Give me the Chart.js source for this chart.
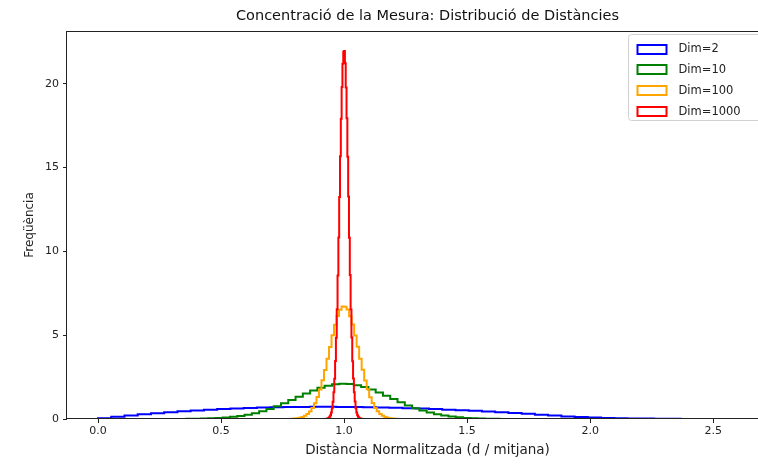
<!DOCTYPE html>
<html>
<head>
    <title>Concentració de la Mesura</title>
    <script src="https://cdn.jsdelivr.net/npm/chart.js"></script>
    <style>
        body { margin: 0; overflow: hidden; background: #fff; }
    </style>
</head>
<body>
    <canvas id="distChart" width="800" height="466"></canvas>

    <script>
        // histogram heights (density) for each dimension, 50 bins each
        var seriesLabels = ["Dim=2", "Dim=10", "Dim=100", "Dim=1000"];
        var seriesColors = ["blue", "green", "orange", "red"];
        var binStart = [0.0, 0.27, 0.745, 0.917];
        var binWidth = [0.0538, 0.0296, 0.0102, 0.00332];

        var dim2 = [0.045, 0.131, 0.210, 0.282, 0.349, 0.410, 0.465, 0.514, 0.558, 0.597,
                    0.630, 0.658, 0.681, 0.699, 0.713, 0.722, 0.726, 0.726, 0.723, 0.715,
                    0.703, 0.687, 0.668, 0.646, 0.620, 0.591, 0.559, 0.524, 0.486, 0.446,
                    0.403, 0.358, 0.310, 0.261, 0.209, 0.156, 0.114, 0.086, 0.065, 0.048,
                    0.036, 0.025, 0.017, 0.011, 0.007, 0.004, 0.002, 0.001, 0.0002, 0.0001];
        var dim10 = [0.002, 0.003, 0.005, 0.009, 0.015, 0.024, 0.038, 0.059, 0.088, 0.129,
                     0.184, 0.257, 0.349, 0.463, 0.600, 0.758, 0.936, 1.127, 1.325, 1.520,
                     1.702, 1.860, 1.984, 2.066, 2.099, 2.082, 2.016, 1.905, 1.757, 1.581,
                     1.388, 1.189, 0.995, 0.812, 0.648, 0.504, 0.383, 0.284, 0.206, 0.145,
                     0.100, 0.067, 0.044, 0.028, 0.018, 0.011, 0.006, 0.004, 0.002, 0.001];
        var dim100 = [0.001, 0.002, 0.004, 0.007, 0.013, 0.024, 0.042, 0.072, 0.119, 0.191,
                      0.298, 0.451, 0.663, 0.946, 1.312, 1.767, 2.307, 2.925, 3.600, 4.302,
                      4.990, 5.620, 6.143, 6.518, 6.715, 6.702, 6.530, 6.131, 5.634, 4.978,
                      4.311, 3.590, 2.934, 2.298, 1.774, 1.305, 0.951, 0.658, 0.455, 0.294,
                      0.193, 0.117, 0.073, 0.041, 0.025, 0.012, 0.007, 0.004, 0.002, 0.001];
        var dim1000 = [0.001, 0.002, 0.005, 0.010, 0.019, 0.038, 0.071, 0.130, 0.229, 0.392,
                       0.648, 1.036, 1.601, 2.396, 3.466, 4.845, 6.552, 8.566, 10.83, 13.25,
                       15.67, 17.91, 19.81, 21.19, 21.91, 21.95, 21.22, 19.78, 17.94, 15.64,
                       13.27, 10.81, 8.59, 6.53, 4.86, 3.45, 2.41, 1.59, 1.04, 0.645,
                       0.395, 0.227, 0.131, 0.070, 0.038, 0.019, 0.009, 0.005, 0.002, 0.001];

        var xTicks = [0.0, 0.5, 1.0, 1.5, 2.0, 2.5];
        var yTicks = [0, 5, 10, 15, 20];

        var heights = [dim2, dim10, dim100, dim1000];

        // outline of a step histogram: up at the first edge, across each bin, down at the last edge
        function stepPoints(start, width, h) {
            var pts = [{ x: start, y: 0 }];
            h.forEach(function (v, i) {
                pts.push({ x: start + i * width, y: v });
            });
            pts.push({ x: start + h.length * width, y: 0 });
            return pts;
        }

        var datasets = heights.map(function (h, i) {
            return {
                label: seriesLabels[i],
                data: stepPoints(binStart[i], binWidth[i], h),
                borderColor: seriesColors[i],
                borderWidth: 2,
                borderJoinStyle: "miter",
                stepped: "before",
                fill: false,
                pointRadius: 0,
                order: 3 - i
            };
        });

        // full box around the plot area
        var frame = {
            id: "frame",
            afterDatasetsDraw: function (chart) {
                var a = chart.chartArea, ctx = chart.ctx;
                ctx.save();
                ctx.strokeStyle = "#222";
                ctx.lineWidth = 1;
                ctx.strokeRect(Math.round(a.left) - 0.5, Math.round(a.top) + 0.5,
                               Math.round(a.right - a.left) + 1, Math.round(a.bottom - a.top) - 1);
                ctx.restore();
            }
        };

        // legend with outlined patches in the upper right corner
        var boxLegend = {
            id: "boxLegend",
            afterDraw: function (chart) {
                var a = chart.chartArea, ctx = chart.ctx;
                var left = Math.round(a.right - 160) + 0.5, top = Math.round(a.top + 3) + 0.5;
                ctx.save();
                ctx.beginPath();
                ctx.roundRect(left, top, 150, 86, 3);
                ctx.fillStyle = "rgba(255,255,255,0.8)";
                ctx.fill();
                ctx.strokeStyle = "#d0d0d0";
                ctx.lineWidth = 1;
                ctx.stroke();
                ctx.font = "11.5px 'DejaVu Sans'";
                ctx.textBaseline = "middle";
                seriesLabels.forEach(function (lab, i) {
                    var y = top + 14 + i * 20.7;
                    ctx.strokeStyle = seriesColors[i];
                    ctx.lineWidth = 2;
                    ctx.strokeRect(left + 9, Math.round(y) - 4, 29, 9);
                    ctx.fillStyle = "#222";
                    ctx.fillText(lab, left + 50, y + 1);
                });
                ctx.restore();
            }
        };

        Chart.defaults.font.family = "'DejaVu Sans'";
        Chart.defaults.color = "#222";

        var ctx = document.getElementById("distChart").getContext("2d");
        var chart = new Chart(ctx, {
            type: "line",
            data: { datasets: datasets },
            options: {
                responsive: false,
                animation: false,
                layout: { padding: { left: 0, right: 12, top: 0, bottom: 0 } },
                plugins: {
                    legend: { display: false },
                    tooltip: { enabled: false },
                    title: {
                        display: true,
                        text: "Concentració de la Mesura: Distribució de Distàncies",
                        font: { size: 14.5, weight: "normal" },
                        color: "#111",
                        fullSize: false,
                        padding: { top: 8, bottom: 5.6 }
                    }
                },
                scales: {
                    x: {
                        type: "linear",
                        min: -0.126,
                        max: 2.804,
                        afterBuildTicks: function (axis) {
                            axis.ticks = xTicks.map(function (v) { return { value: v }; });
                        },
                        afterFit: function (scale) { scale.height = 47; },
                        ticks: {
                            font: { size: 11 },
                            padding: 2,
                            maxRotation: 0,
                            callback: function (v) { return v.toFixed(1); }
                        },
                        grid: { drawOnChartArea: false, drawTicks: true, tickLength: 4, color: "#222" },
                        border: { display: false },
                        title: {
                            display: true,
                            text: "Distància Normalitzada (d / mitjana)",
                            font: { size: 13.5 },
                            padding: { top: 0, bottom: 7 }
                        }
                    },
                    y: {
                        type: "linear",
                        min: 0,
                        max: 23.15,
                        afterBuildTicks: function (axis) {
                            axis.ticks = yTicks.map(function (v) { return { value: v }; });
                        },
                        afterFit: function (scale) { scale.width = 67; },
                        ticks: { font: { size: 11 }, padding: 4 },
                        grid: { drawOnChartArea: false, drawTicks: true, tickLength: 4, color: "#222" },
                        border: { display: false },
                        title: {
                            display: true,
                            text: "Freqüència",
                            font: { size: 12 },
                            padding: { top: 23, bottom: 0 }
                        }
                    }
                }
            },
            plugins: [frame, boxLegend]
        });
    </script>
</body>
</html>
